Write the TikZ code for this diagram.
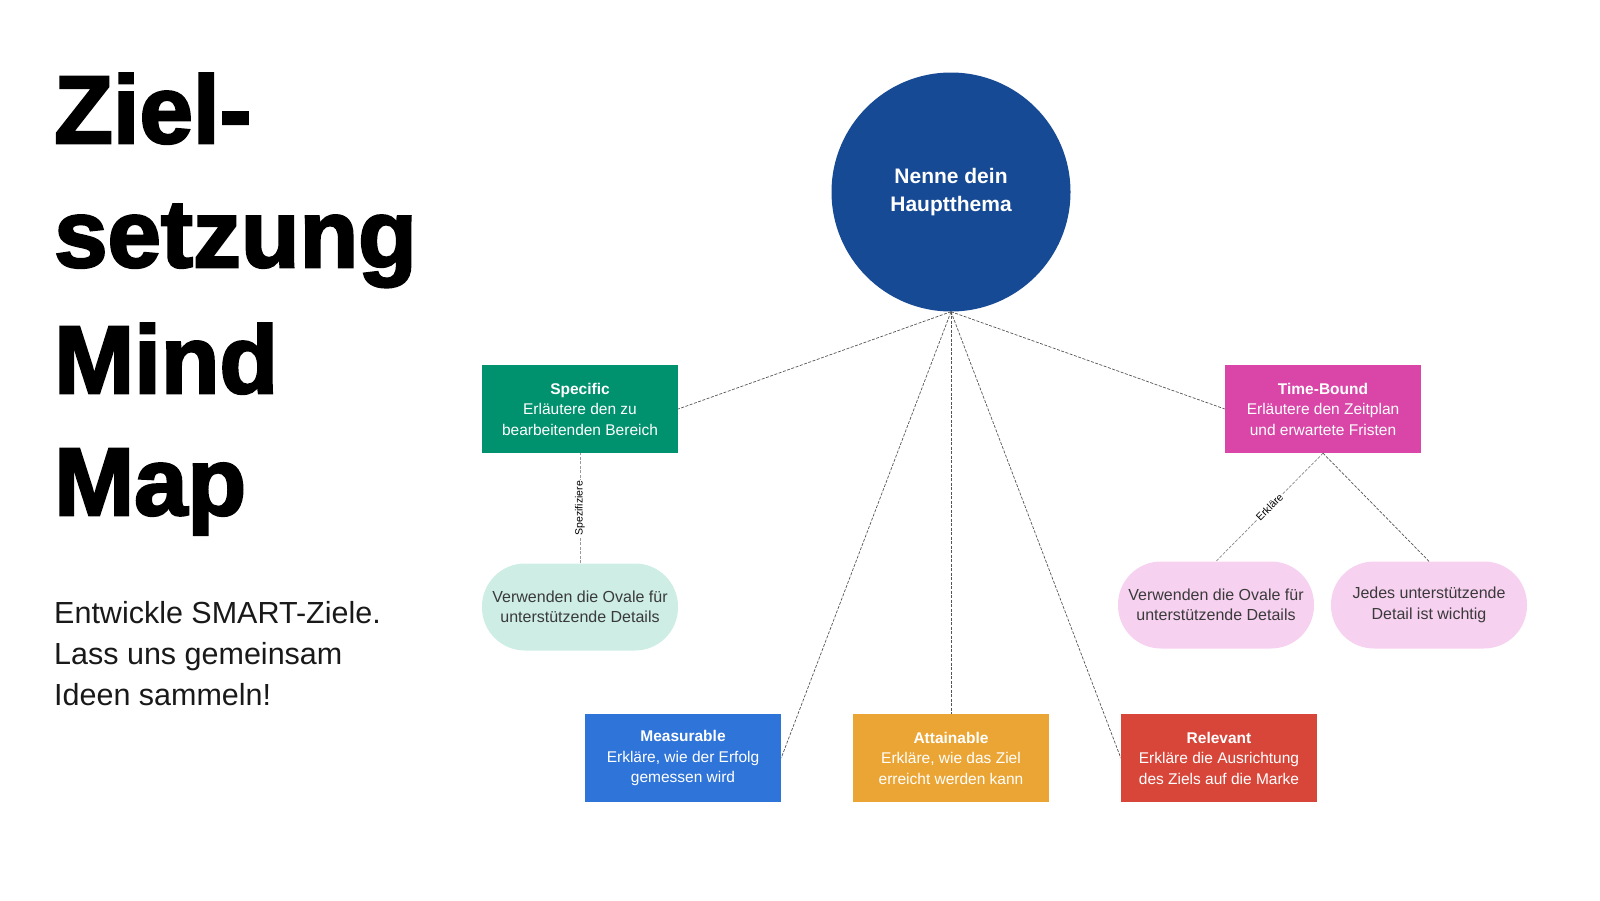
\documentclass[tikz,border=0pt]{standalone}
\usepackage{fontspec}
\setmainfont{Liberation Sans}
\newfontfamily\titlefont{Liberation Sans Bold}[FakeBold=2.6]
\usetikzlibrary{positioning}
\definecolor{topicblue}{HTML}{174A94}
\definecolor{specgreen}{HTML}{00916E}
\definecolor{measblue}{HTML}{2F74D8}
\definecolor{attorange}{HTML}{EBA534}
\definecolor{relred}{HTML}{D8463A}
\definecolor{timepink}{HTML}{D946A8}
\definecolor{specoval}{HTML}{CDEDE5}
\definecolor{timeoval}{HTML}{F7D1F0}
\definecolor{ovaltext}{HTML}{3A3A3A}
\definecolor{linegray}{HTML}{555555}
\tikzset{
	topic/.style={circle, fill=topicblue, minimum size=239pt, inner sep=0pt, align=center, text=white, font=\fontsize{21}{28.5}\selectfont\bfseries},
	goalbox/.style={rectangle, minimum width=196pt, minimum height=88pt, inner sep=0pt, align=center, text=white, font=\fontsize{15.5}{20.5}\selectfont},
	detail/.style={rectangle, rounded corners=43pt, minimum width=196pt, minimum height=87pt, inner sep=0pt, align=center, text=ovaltext, font=\fontsize{16}{20.5}\selectfont},
	link/.style={draw=linegray, line width=0.7pt, dash pattern=on 3pt off 1.5pt},
	linklabel/.style={fill=white, inner sep=1.5pt, text=black, font=\fontsize{10.5}{12}\selectfont},
	titletext/.style={inner sep=0pt, anchor=base west, font=\titlefont\fontsize{96}{124}\selectfont},
	subtext/.style={inner sep=0pt, anchor=base west, text=black!90, font=\fontsize{30.5}{41}\selectfont}
}
\begin{document}
\begin{tikzpicture}[x=1pt,y=-1pt]
		\useasboundingbox (0,0) rectangle (1600,900);
		% title
		\foreach \w/\y [count=\i] in {Ziel-/143, setzung/267, Mind/393, Map/515}
			\node[titletext] (title\i) at (54,\y) {\w};
		\foreach \w/\y [count=\i] in {Entwickle SMART-Ziele./623, Lass uns gemeinsam/664, Ideen sammeln!/705}
			\node[subtext] (sub\i) at (54,\y) {\w};
		% mind map
		\node[topic] (topic) at (951,192) {Nenne dein\\Hauptthema};
		\node[goalbox, fill=specgreen] (specific) at (580,409) {\textbf{Specific}\\Erläutere den zu\\bearbeitenden Bereich};
		\node[goalbox, fill=timepink] (timebound) at (1323,409) {\textbf{Time-Bound}\\Erläutere den Zeitplan\\und erwartete Fristen};
		\node[goalbox, fill=measblue] (measurable) at (683,758) {\textbf{Measurable}\\Erkläre, wie der Erfolg\\gemessen wird};
		\node[goalbox, fill=attorange] (attainable) at (951,758) {\textbf{Attainable}\\Erkläre, wie das Ziel\\erreicht werden kann};
		\node[goalbox, fill=relred] (relevant) at (1219,758) {\textbf{Relevant}\\Erkläre die Ausrichtung\\des Ziels auf die Marke};
		\node[detail, fill=specoval] (specdetail) at (580,607) {Verwenden die Ovale für\\unterstützende Details};
		\node[detail, fill=timeoval] (timedetail1) at (1216,605) {Verwenden die Ovale für\\unterstützende Details};
		\node[detail, fill=timeoval] (timedetail2) at (1429,605) {Jedes unterstützende\\Detail ist wichtig};
		\draw[link] (topic.south) -- (specific.east);
		\draw[link] (topic.south) -- (timebound.west);
		\draw[link] (topic.south) -- (measurable.east);
		\draw[link] (topic.south) -- (attainable.north);
		\draw[link] (topic.south) -- (relevant.west);
		\draw[link, draw=linegray!60] (specdetail.north) -- (specific.south) node[linklabel, midway, rotate=90] {Spezifiziere};
		\draw[link, draw=linegray!70] (timebound.south) -- (timedetail1.north) node[linklabel, midway, sloped] {Erkläre};
		\draw[link] (timebound.south) -- (timedetail2.north);
	\end{tikzpicture}
\end{document}
